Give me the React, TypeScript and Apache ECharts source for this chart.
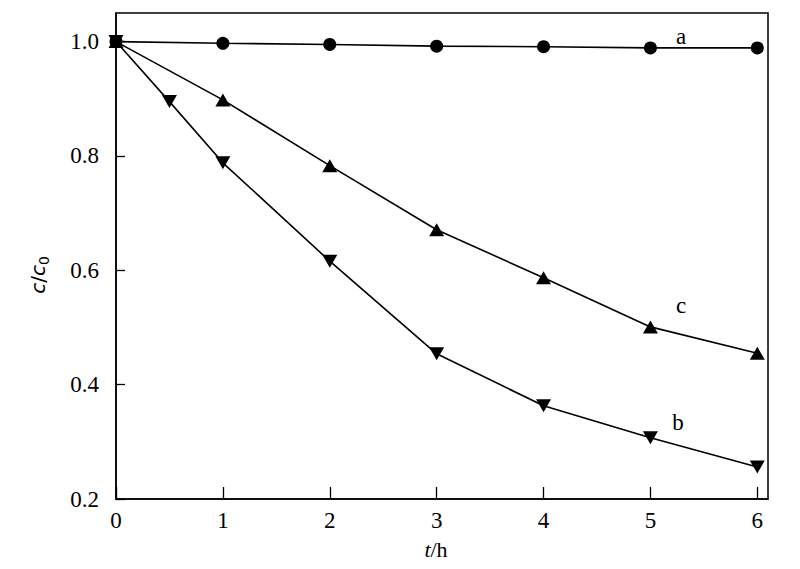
import React, { useEffect, useRef } from "react";
import * as echarts from "echarts";

const timesA = [0, 1, 2, 3, 4, 5, 6];
const valuesA = [1.0, 0.997, 0.995, 0.992, 0.991, 0.989, 0.989];
const timesB = [0, 0.5, 1, 2, 3, 4, 5, 6];
const valuesB = [1.0, 0.895, 0.788, 0.616, 0.454, 0.363, 0.307, 0.256];
const timesC = [0, 1, 2, 3, 4, 5, 6];
const valuesC = [1.0, 0.898, 0.783, 0.671, 0.587, 0.501, 0.455];
const seriesLabels = ["a", "b", "c"];

const SERIF = "'Liberation Serif', 'Times New Roman', serif";
const SANS = "'DejaVu Sans', sans-serif";

function pairs(xs: number[], ys: number[]) {
  return xs.map((x, i) => [x, ys[i]]);
}

export default function App() {
  const ref = useRef<HTMLDivElement>(null);
  useEffect(() => {
    if (!ref.current) return;
    const chart = echarts.init(ref.current, null, { renderer: "svg" });
    const line = { color: "#000", width: 1.6 };
    const letter = (text: string, x: number, y: number) => ({
      type: "text",
      x,
      y,
      style: { text, fontFamily: SERIF, fontSize: 23, fill: "#000", align: "center", verticalAlign: "middle" },
    });
    chart.setOption({
      animation: false,
      backgroundColor: "#fff",
      grid: {
        left: 116,
        right: 32,
        top: 13,
        bottom: 70,
        show: true,
        borderColor: "#000",
        borderWidth: 1.5,
        backgroundColor: "transparent",
      },
      xAxis: {
        type: "value",
        min: 0,
        max: 6.1,
        interval: 1,
        splitLine: { show: false },
        axisLine: { show: true, lineStyle: { color: "#000", width: 1.5 } },
        axisTick: { show: true, inside: true, length: 12, lineStyle: { color: "#000", width: 1.3 } },
        axisLabel: {
          color: "#000",
          fontFamily: SERIF,
          fontSize: 23,
          margin: 10,
          showMaxLabel: false,
          formatter: (v: number) => (Number.isInteger(v) ? String(v) : ""),
        },
      },
      yAxis: {
        type: "value",
        min: 0.2,
        max: 1.05,
        interval: 0.2,
        splitLine: { show: false },
        axisLine: { show: true, lineStyle: { color: "#000", width: 1.5 } },
        axisTick: { show: true, inside: true, length: 9, lineStyle: { color: "#000", width: 1.3 } },
        axisLabel: {
          color: "#000",
          fontFamily: SERIF,
          fontSize: 23,
          margin: 17,
          showMaxLabel: false,
          formatter: (v: number) => {
            const r = Math.round(v * 10) / 10;
            return Math.abs(r - v) < 1e-6 ? r.toFixed(1) : "";
          },
        },
      },
      graphic: [
        {
          type: "text",
          x: 436,
          y: 549,
          style: {
            text: "{i|t}/h",
            fontFamily: SERIF,
            fontSize: 22,
            fill: "#000",
            align: "center",
            verticalAlign: "middle",
            rich: {
              i: { fontFamily: SERIF, fontSize: 22, fontStyle: "italic", fill: "#000" },
            },
          },
        },
        {
          type: "text",
          x: 38,
          y: 275,
          rotation: Math.PI / 2,
          style: {
            text: "{i|c}{n|/}{i|c}{s|0}",
            fill: "#000",
            align: "center",
            verticalAlign: "middle",
            rich: {
              i: { fontFamily: SANS, fontSize: 20, fontStyle: "italic", fill: "#000" },
              n: { fontFamily: SANS, fontSize: 20, fill: "#000" },
              s: { fontFamily: SANS, fontSize: 14, fill: "#000", padding: [12, 0, 0, 0] },
            },
          },
        },
        letter(seriesLabels[0], 681, 36),
        letter(seriesLabels[1], 678, 422),
        letter(seriesLabels[2], 681, 305),
      ],
      series: [
        {
          name: seriesLabels[0],
          type: "line",
          data: pairs(timesA, valuesA),
          symbol: "circle",
          symbolSize: 13,
          lineStyle: line,
          itemStyle: { color: "#000" },
        },
        {
          name: seriesLabels[1],
          type: "line",
          data: pairs(timesB, valuesB),
          symbol: "triangle",
          symbolRotate: 180,
          symbolSize: [15, 13],
          lineStyle: line,
          itemStyle: { color: "#000" },
        },
        {
          name: seriesLabels[2],
          type: "line",
          data: pairs(timesC, valuesC),
          symbol: "triangle",
          symbolSize: [15, 13],
          lineStyle: line,
          itemStyle: { color: "#000" },
        },
      ],
    });
    return () => chart.dispose();
  }, []);
  return <div ref={ref} style={{ width: 800, height: 569, position: "absolute", left: 0, top: 0 }} />;
}
